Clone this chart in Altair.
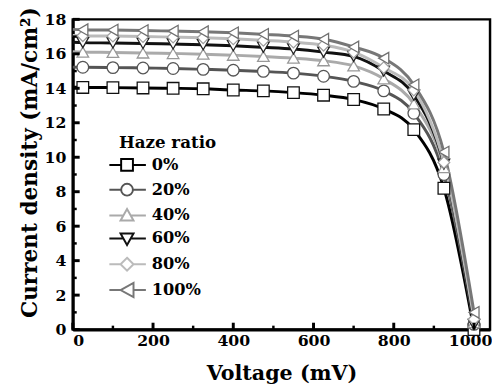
import altair as alt
import pandas as pd

# ---- data ----
voltage = [0, 25, 100, 175, 250, 325, 400, 475, 550, 625, 700, 775, 850, 925, 1000]
series_names = ["0%", "20%", "40%", "60%", "80%", "100%"]
j_0 = [14.06, 14.05, 14.04, 14.02, 14.00, 13.97, 13.90, 13.85, 13.75, 13.60, 13.35, 12.80, 11.60, 8.20, 0.00]
j_20 = [15.23, 15.22, 15.20, 15.18, 15.15, 15.10, 15.05, 14.98, 14.88, 14.70, 14.40, 13.85, 12.55, 9.00, 0.30]
j_40 = [16.12, 16.10, 16.08, 16.05, 16.02, 15.98, 15.92, 15.85, 15.75, 15.60, 15.30, 14.55, 13.10, 9.40, 0.40]
j_60 = [16.67, 16.65, 16.63, 16.60, 16.57, 16.53, 16.47, 16.38, 16.28, 16.10, 15.85, 15.00, 13.60, 9.60, 0.30]
j_80 = [17.07, 17.05, 17.03, 17.00, 16.97, 16.93, 16.87, 16.78, 16.68, 16.50, 16.10, 15.20, 13.90, 9.70, 0.60]
j_100 = [17.42, 17.40, 17.38, 17.35, 17.32, 17.28, 17.22, 17.13, 17.03, 16.85, 16.40, 15.75, 14.20, 10.30, 1.00]
all_j = [j_0, j_20, j_40, j_60, j_80, j_100]

line_colors = ["#000000", "#555555", "#aaaaaa", "#111111", "#bbbbbb", "#777777"]
marker_colors = ["#111111", "#555555", "#999999", "#222222", "#a0a0a0", "#707070"]
plot_shapes = ["square", "circle", "triangle-up", "triangle-down", "diamond", "triangle-left"]
legend_shapes = [
    "M-3,0H-1M1,0H3.2M-1,-1H1V1H-1Z",
    "M-3,0H-1M1,0H3.2M-1,0A1,1 0 1,0 1,0A1,1 0 1,0 -1,0Z",
    "M-3,0H-0.6M0.6,0H3.2M0,-1.1L1.1,0.85L-1.1,0.85Z",
    "M-3,0H-0.6M0.6,0H3.2M0,1.1L1.1,-0.85L-1.1,-0.85Z",
    "M-3,0H-1.1M1.1,0H3.2M0,-1.1L1.1,0L0,1.1L-1.1,0Z",
    "M-3,0H-1.1M1.1,0H3.2M-1.1,0L1.1,-1.2L1.1,1.2Z",
]

x_ticks_major = [0, 200, 400, 600, 800, 1000]
x_ticks_minor = [100, 300, 500, 700, 900]
y_ticks_major = [0, 2, 4, 6, 8, 10, 12, 14, 16, 18]
y_ticks_minor = [1, 3, 5, 7, 9, 11, 13, 15, 17]

rows = []
for name, js in zip(series_names, all_j):
    for v, j in zip(voltage, js):
        rows.append({"series": name, "v": v, "j": j, "marker": v > 0})
df = pd.DataFrame(rows)

FONT = "DejaVu Serif"
W, H = 425, 316
LEG_TITLE = "\u00a0\u00a0Haze ratio"

x_scale = alt.Scale(domain=[0, 1040], nice=False, zero=False)
y_scale = alt.Scale(domain=[0, 18], nice=False)

x_axis = alt.Axis(
    values=x_ticks_major, format="d", title="Voltage (mV)", labelPadding=3,
    labelOffset={"condition": {"test": "datum.value == 1000", "value": -4}, "value": 0},
    titleY=51, titleBaseline="alphabetic", titleFontSize=21)
y_axis = alt.Axis(
    values=y_ticks_major, format="d", title="Current density (mA/cm²)", labelPadding=7,
    titleX=-37, titleY=145.5, titleBaseline="alphabetic", titleAlign="center",
    titleFontSize=22)

x_enc = alt.X("v:Q", scale=x_scale, axis=x_axis)
y_enc = alt.Y("j:Q", scale=y_scale, axis=y_axis)

base = alt.Chart(df)

lines = base.mark_line(interpolate="monotone", strokeWidth=3).encode(
    x=x_enc, y=y_enc,
    stroke=alt.Stroke("series:N", scale=alt.Scale(domain=series_names, range=line_colors), legend=None),
    detail="series:N",
)

points = base.transform_filter("datum.marker").mark_point(
    filled=True, fill="white", size=140, strokeWidth=1.3, opacity=1
).encode(
    x=x_enc, y=y_enc,
    shape=alt.Shape("series:N", scale=alt.Scale(domain=series_names, range=plot_shapes), legend=None),
    stroke=alt.Stroke("series:N", scale=alt.Scale(domain=series_names, range=marker_colors), legend=None),
)

leg = alt.Legend(
    title=LEG_TITLE, orient="none", legendX=47, legendY=118,
    titleFont=FONT, titleFontSize=17, titleFontWeight="bold", titleColor="black",
    labelFont=FONT, labelFontSize=16.5, labelFontWeight="bold", labelColor="black",
    symbolSize=144, symbolStrokeWidth=2, symbolFillColor="white",
    labelOffset=17, rowPadding=4.3, padding=0, titlePadding=5,
)

legend_layer = base.transform_filter("false").mark_point(
    filled=True, fill="white", strokeWidth=2, opacity=1
).encode(
    x=x_enc, y=y_enc,
    shape=alt.Shape("series:N", scale=alt.Scale(domain=series_names, range=legend_shapes), legend=leg, title=LEG_TITLE),
    stroke=alt.Stroke("series:N", scale=alt.Scale(domain=series_names, range=line_colors), legend=leg, title=LEG_TITLE),
)

# inward ticks
xt_major = alt.Chart(pd.DataFrame({"v": x_ticks_major})).mark_rule(color="black", strokeWidth=3).encode(
    x=x_enc, y=alt.value(H), y2=alt.value(H - 7))
xt_minor = alt.Chart(pd.DataFrame({"v": x_ticks_minor})).mark_rule(color="black", strokeWidth=2.5).encode(
    x=x_enc, y=alt.value(H), y2=alt.value(H - 4))
yt_major = alt.Chart(pd.DataFrame({"j": y_ticks_major})).mark_rule(color="black", strokeWidth=3).encode(
    y=y_enc, x=alt.value(0), x2=alt.value(7))
yt_minor = alt.Chart(pd.DataFrame({"j": y_ticks_minor})).mark_rule(color="black", strokeWidth=2.5).encode(
    y=y_enc, x=alt.value(0), x2=alt.value(4))

chart = alt.layer(
    lines, points, legend_layer, xt_major, xt_minor, yt_major, yt_minor
).resolve_scale(
    shape="independent", stroke="independent"
).properties(
    width=W, height=H,
    autosize=alt.AutoSizeParams(type="none"),
    padding={"left": 66, "top": 8, "right": 2, "bottom": 60},
).configure_view(
    stroke="black", strokeWidth=2.5
).configure_axis(
    domainColor="black", domainWidth=3, ticks=False, tickSize=0, grid=False,
    labelFont=FONT, labelFontWeight="bold", labelFontSize=16, labelColor="black",
    titleFont=FONT, titleFontWeight="bold", titleColor="black",
)

chart.save("out.html", embed_options={"renderer": "svg", "actions": False})
